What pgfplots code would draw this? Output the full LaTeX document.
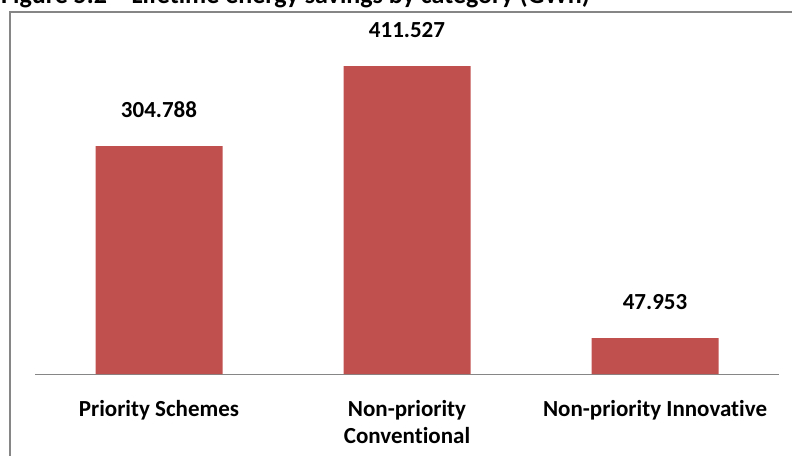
\documentclass[border=0pt]{standalone}
\usepackage{fontspec}
\setmainfont{Carlito}[Ligatures=NoCommon]
\usepackage{pgfplots}
\pgfplotsset{compat=1.18}
\definecolor{barred}{HTML}{C0504D}
\definecolor{framegray}{HTML}{868686}
\begin{document}
\begin{tikzpicture}[x=1pt,y=1pt]
\useasboundingbox (0,0) rectangle (792,455);
% title, partly cut off at the top as in the source
\node[anchor=base west, inner sep=0pt, font=\fontsize{26}{30}\selectfont\bfseries]
  at (1,451) {Figure 5.2 – Lifetime energy savings by category (GWh)};
% chart frame
\draw[framegray, line width=2pt] (10,-20) -- (10,443) -- (830,443);
\begin{axis}[
    at={(35pt,81pt)}, anchor=south west,
    scale only axis,
    width=744pt, height=359pt,
    xmin=-0.5, xmax=2.5,
    ymin=0, ymax=480,
    axis y line=none,
    axis x line*=bottom,
    x axis line style={framegray, line width=1pt},
    ytick=\empty,
    xtick={0,1,2},
    major tick length=0pt,
    xticklabels={Priority Schemes, Non-priority\\Conventional, Non-priority Innovative},
    xticklabel style={align=center, font=\fontsize{23}{27}\selectfont\bfseries, anchor=north, yshift=-23pt},
    clip=false,
    ybar, bar width=127pt, bar shift=0pt,
    point meta=explicit symbolic,
    nodes near coords,
    every node near coord/.append style={anchor=base, yshift=28.7pt, font=\fontsize{23}{27}\selectfont\bfseries, text=black},
]
\addplot[fill=barred, draw=none] coordinates {
    (0, 304.788) [304.788]
    (1, 411.527) [411.527]
    (2, 47.953) [47.953]
};
\end{axis}
\end{tikzpicture}
\end{document}
